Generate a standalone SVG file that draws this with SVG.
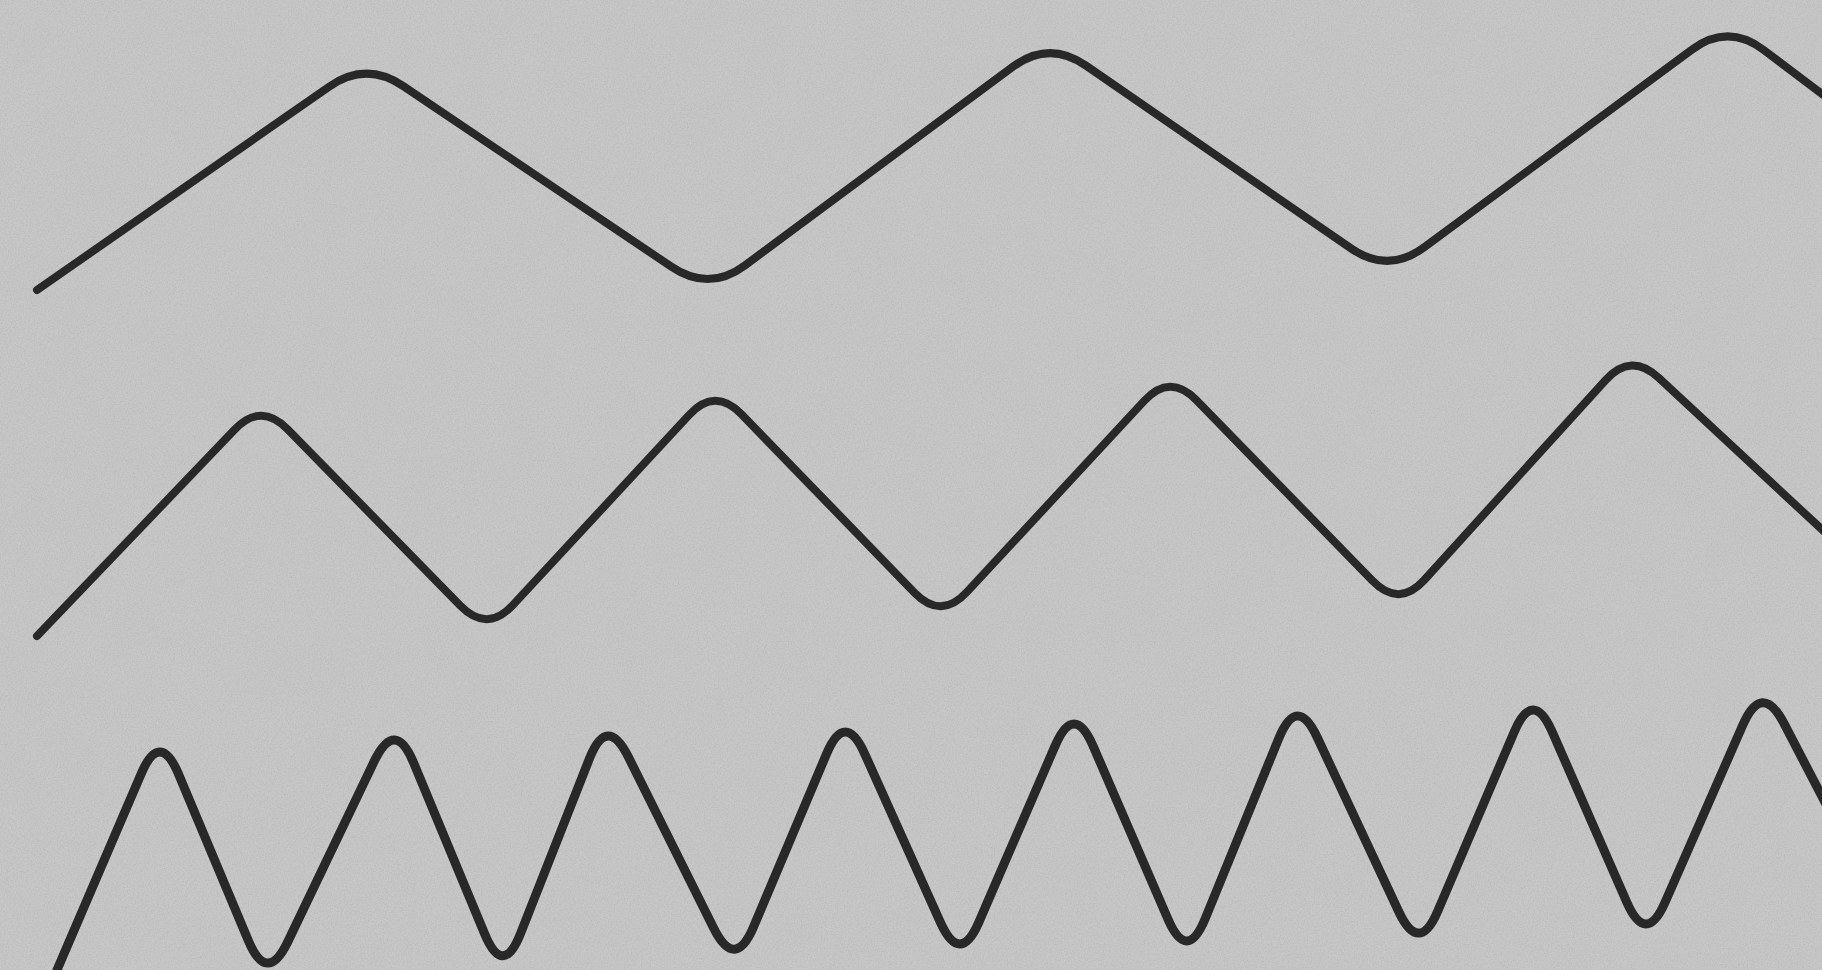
<svg xmlns="http://www.w3.org/2000/svg" width="1822" height="970" viewBox="0 0 1822 970">
  <defs>
    <filter id="paper" x="0" y="0" width="100%" height="100%">
      <feTurbulence type="fractalNoise" baseFrequency="0.7" numOctaves="2" seed="3" result="n"/>
      <feColorMatrix type="matrix" values="0 0 0 0 0.42  0 0 0 0 0.42  0 0 0 0 0.42  1.2 0 0 0 -0.45" />
    </filter>
    <filter id="blot" x="0" y="0" width="100%" height="100%">
      <feTurbulence type="fractalNoise" baseFrequency="0.02" numOctaves="3" seed="7" result="n"/>
      <feColorMatrix type="matrix" values="0 0 0 0 0.6  0 0 0 0 0.6  0 0 0 0 0.6  1 0 0 0 -0.35" />
    </filter>
  </defs>
  <style>
    .wave { fill: none; stroke: #282828; stroke-width: 8; stroke-linecap: round; stroke-linejoin: round; }
    #wave3 { stroke-width: 9; }
  </style>
  <rect x="0" y="0" width="1822" height="970" fill="#c7c7c7"/>
  <rect x="0" y="0" width="1822" height="970" filter="url(#blot)" opacity="0.6"/>
  <rect x="0" y="0" width="1822" height="970" filter="url(#paper)" opacity="0.8"/>
  <g id="waves">
    <path id="wave1" class="wave" d="M37,290 L329.1,86.7 Q366,61 403.3,86.1 L671.7,266.9 Q709,292 745.2,265.2 L1012.8,66.8 Q1049,40 1086,65.6 L1351,248.4 Q1388,274 1424.2,247.3 L1691.8,49.7 Q1728,23 1763.9,50.1 L1830,100"/>
    <path id="wave2" class="wave" d="M37,636 L234.7,429.5 Q261,402 287.6,429.2 L460.4,605.8 Q487,633 512.8,605.1 L689.2,414.9 Q715,387 741.5,414.3 L914.5,592.7 Q941,620 966.8,592.1 L1144.2,400.9 Q1170,373 1196.5,400.2 L1372.5,580.8 Q1399,608 1424.5,579.8 L1605.5,380.2 Q1631,352 1658.8,377.9 L1830,537"/>
    <path id="wave3" class="wave" d="M57,970 L141.1,773.9 Q160,730 178.6,774.3 L248.4,940.7 Q267,985 287.8,941.7 L374.2,761.3 Q395,718 413.4,762.3 L484.6,933.7 Q503,978 520.6,933.3 L589.4,758.7 Q607,714 628.4,757 L713.6,928 Q735,971 753.6,926.8 L826.4,754.2 Q845,710 864.7,753.8 L940.3,922.2 Q960,966 979,921.9 L1055,746.1 Q1074,702 1093.1,746 L1167.9,919 Q1187,963 1205.2,918.6 L1278.8,738.4 Q1297,694 1317.3,737.5 L1398.7,911.5 Q1419,955 1437.8,910.9 L1514.2,731.9 Q1533,688 1552.3,732 L1626.7,902 Q1646,946 1665.2,902 L1742.8,725 Q1762,681 1784.1,723.6 L1830,812"/>
  </g>
</svg>
